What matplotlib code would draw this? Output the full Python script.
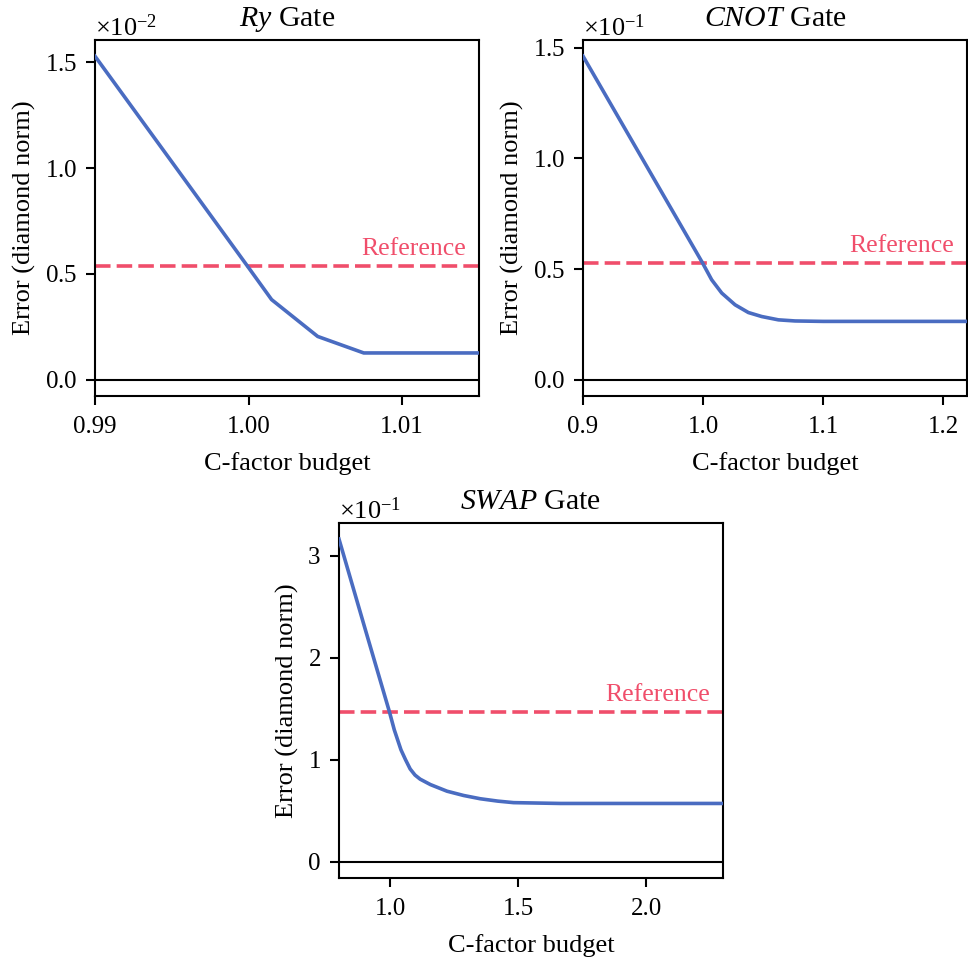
import matplotlib
matplotlib.use("Agg")
import matplotlib.pyplot as plt
import matplotlib.transforms as mtransforms
from matplotlib.ticker import MultipleLocator, FormatStrFormatter, ScalarFormatter

plt.rcParams['font.family'] = ['Liberation Serif', 'DejaVu Serif']
plt.rcParams['mathtext.fontset'] = 'custom'
plt.rcParams['mathtext.rm'] = 'Liberation Serif'
plt.rcParams['mathtext.it'] = 'Liberation Serif:italic'
plt.rcParams['mathtext.bf'] = 'Liberation Serif:bold'

BLUE = '#4a6cc1'
RED = '#f04e6b'

# Ry gate, error in units of 1e-2
ry_budget = [0.99, 0.995, 1.0, 1.0015, 1.0045, 1.0075, 1.015]
ry_error = [1.529, 1.03, 0.53, 0.379, 0.205, 0.127, 0.127]
ry_ref = 0.54
ry_scale = 1e-2

# CNOT gate, error in units of 1e-1
cnot_budget = [0.9, 0.9994, 1.0072, 1.0156, 1.0267, 1.0378, 1.0489,
               1.0628, 1.0767, 1.1, 1.22]
cnot_error = [1.462, 0.530, 0.452, 0.392, 0.339, 0.304, 0.286,
              0.271, 0.266, 0.264, 0.264]
cnot_ref = 0.53
cnot_scale = 1e-1

# SWAP gate, error in units of 1e-1
swap_budget = [0.8, 0.9, 0.997, 1.016, 1.042, 1.06, 1.078, 1.097, 1.117,
               1.157, 1.222, 1.287, 1.352, 1.42, 1.482, 1.665, 2.3]
swap_error = [3.162, 2.30, 1.47, 1.293, 1.098, 1.00, 0.91, 0.85, 0.81,
              0.757, 0.692, 0.650, 0.618, 0.595, 0.580, 0.572, 0.572]
swap_ref = 1.47
swap_scale = 1e-1

gates = [
    ('$Ry$ Gate', ry_budget, ry_error, ry_ref, ry_scale, 0.01, '%.2f', 0.5),
    ('$CNOT$ Gate', cnot_budget, cnot_error, cnot_ref, cnot_scale, 0.1, '%.1f', 0.5),
    ('$SWAP$ Gate', swap_budget, swap_error, swap_ref, swap_scale, 0.5, '%.1f', 1.0),
]

positions = [
    [0.0981, 0.5879, 0.3967, 0.3705],
    [0.6023, 0.5879, 0.3967, 0.3705],
    [0.3502, 0.0864, 0.3967, 0.3694],
]

fig = plt.figure(figsize=(9.68, 9.61), dpi=100)

for (title, budget, err, ref, scale, xstep, xfmt, ystep), pos in zip(gates, positions):
    ax = fig.add_axes(pos)
    y = [e * scale for e in err]
    ax.plot(budget, y, color=BLUE, lw=2.6, zorder=3)
    ax.axhline(ref * scale, color=RED, lw=2.6, dashes=(4.3, 1.7), zorder=2)
    ax.axhline(0, color='black', lw=1.5, zorder=2)

    ax.set_xlim(min(budget), max(budget))
    ymax = max(y)
    ax.set_ylim(-0.05 * ymax, 1.05 * ymax)

    ax.xaxis.set_major_locator(MultipleLocator(xstep))
    ax.xaxis.set_major_formatter(FormatStrFormatter(xfmt))
    ax.yaxis.set_major_locator(MultipleLocator(ystep * scale))
    fmt = ScalarFormatter(useMathText=True)
    fmt.set_powerlimits((0, 0))
    ax.yaxis.set_major_formatter(fmt)
    ax.yaxis.get_offset_text().set_fontsize(19)

    trans = mtransforms.blended_transform_factory(ax.transAxes, ax.transData)
    ax.annotate('Reference', xy=(1, ref * scale), xycoords=trans,
                xytext=(-9.5, 7.5), textcoords='offset points',
                ha='right', va='baseline', color=RED, fontsize=18.5)

    for s in ax.spines.values():
        s.set_linewidth(1.5)
    ax.tick_params(direction='out', length=6.5, width=1.5, labelsize=18)
    ax.tick_params(axis='x', pad=8)
    ax.tick_params(axis='y', pad=6.5)
    ax.set_title(title, fontsize=21.5, pad=10)
    ax.set_xlabel('C-factor budget', fontsize=19, labelpad=10)
    ax.set_ylabel('Error (diamond norm)', fontsize=19, labelpad=6)

fig.savefig('out.png', dpi=100)
